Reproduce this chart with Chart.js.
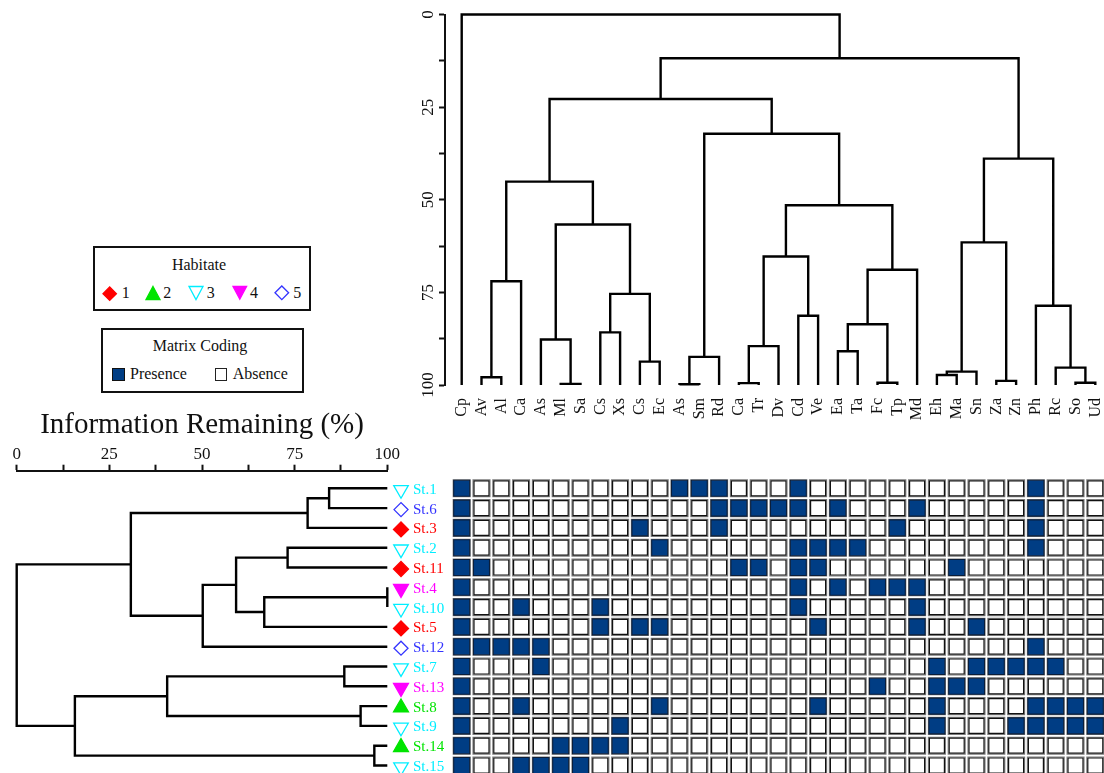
<!DOCTYPE html>
<html><head><meta charset="utf-8">
<script src="https://cdn.jsdelivr.net/npm/chart.js@4.4.1/dist/chart.umd.min.js"></script>
<style>
html,body{margin:0;padding:0;width:1104px;height:773px;overflow:hidden;background:#fff;}
canvas{position:absolute;display:block;}
.t{position:absolute;transform:translate(-50%,-50%);white-space:nowrap;line-height:1;font-family:'Liberation Serif','Times New Roman',serif;color:#111;font-size:16px;}
.tl{position:absolute;transform:translateY(-50%);white-space:nowrap;line-height:1;font-family:'Liberation Serif','Times New Roman',serif;color:#111;font-size:16px;}
.box{position:absolute;border:2.4px solid #111;box-sizing:border-box;}
.mk{position:absolute;}
</style></head>
<body>
<canvas id="cTop" width="689" height="430" style="left:415px;top:0px;width:689px;height:430px"></canvas>
<canvas id="cLeft" width="410" height="378" style="left:0px;top:395px;width:410px;height:378px"></canvas>
<canvas id="cMat" width="664" height="303" style="left:440px;top:470px;width:664px;height:303px"></canvas>
<canvas id="cLab" width="66" height="303" style="left:387px;top:470px;width:66px;height:303px"></canvas>

<div class="box" style="left:93.3px;top:246px;width:217.4px;height:65px"></div>
<div class="t" style="left:199px;top:265px">Habitate</div>
<div class="box" style="left:100.7px;top:328.3px;width:203.3px;height:65px"></div>
<div class="t" style="left:200px;top:346px">Matrix Coding</div>
<div id="legendItems"></div>

<script>
// ---------------- data ----------------
const species = ['Cp','Av','Al','Ca','As','Ml','Sa','Cs','Xs','Cs','Ec','As','Sm','Rd','Ca','Tr','Dv','Cd','Ve','Ea','Ta','Fc','Tp','Md','Eh','Ma','Sn','Za','Zn','Ph','Rc','So','Ud'];
// species dendrogram merges: [childA, childB, distance]; leaves 0..32, merge k gets id 33+k
const speciesMerges = [
  [1, 2, 97.9], [33, 3, 72.0], [5, 6, 99.7], [4, 35, 87.7], [7, 8, 85.8], [9, 10, 93.7],
  [37, 38, 75.4], [36, 39, 56.7], [34, 40, 45.1], [11, 12, 99.8], [42, 13, 92.4],
  [14, 15, 99.5], [44, 16, 89.5], [17, 18, 81.3], [45, 46, 65.3], [19, 20, 90.9],
  [21, 22, 99.4], [48, 49, 83.6], [50, 23, 68.9], [47, 51, 51.5], [43, 52, 32.2],
  [41, 53, 22.8], [24, 25, 97.3], [55, 26, 96.4], [27, 28, 98.9], [56, 57, 61.5],
  [31, 32, 99.4], [30, 59, 95.3], [29, 60, 78.6], [58, 61, 38.9], [54, 62, 11.8], [0, 63, 0]
];
const distanceTicks = [0, 12.5, 25, 37.5, 50, 62.5, 75, 87.5, 100];

const stations = ['St.1','St.6','St.3','St.2','St.11','St.4','St.10','St.5','St.12','St.7','St.13','St.8','St.9','St.14','St.15'];
const stationHabitat = [3, 5, 1, 3, 1, 4, 3, 1, 5, 3, 4, 2, 3, 2, 3];
// station dendrogram merges: leaves 0..14, merge k gets id 15+k
const stationMerges = [
  [0, 1, 84.3], [15, 2, 78.5], [3, 4, 73.1], [5, 6, 100], [18, 7, 66.8], [17, 19, 59.2],
  [20, 8, 50.2], [16, 21, 30.8], [9, 10, 88.4], [11, 12, 92.8], [23, 24, 40.6],
  [13, 14, 96.5], [25, 26, 15.7], [22, 27, 0]
];
const infoTicks = [0, 12.5, 25, 37.5, 50, 62.5, 75, 87.5, 100];

// presence matrix: species column indices present at each station (row order as stations)
const presence = [
  [0, 11, 12, 13, 17, 29],
  [0, 13, 14, 15, 16, 17, 19, 23, 29],
  [0, 9, 13, 22, 29],
  [0, 10, 17, 18, 19, 20, 29],
  [0, 1, 14, 15, 17, 18, 25],
  [0, 17, 19, 21, 22, 23],
  [0, 3, 7, 17, 23],
  [0, 7, 9, 10, 18, 23, 26],
  [0, 1, 2, 3, 4, 29],
  [0, 4, 24, 26, 27, 28, 29, 30],
  [0, 21, 24, 25, 26],
  [0, 3, 10, 18, 24, 29, 30, 31, 32],
  [0, 8, 24, 28, 29, 30, 31, 32],
  [0, 5, 6, 7, 8],
  [0, 3, 4, 5, 6]
];

// ---------------- styles / layout ----------------
const SERIF = "'Liberation Serif', 'Times New Roman', serif";
const INK = '#111';
const BLUE = '#003d84';
const habitatStyle = {
  1: {color: '#ff0000', shape: 'rectRot',  fill: true,  r: 7.5, rot: 0},
  2: {color: '#00e400', shape: 'triangle', fill: true,  r: 8.6, rot: 0},
  3: {color: '#00eeff', shape: 'triangle', fill: false, r: 8.4, rot: 180},
  4: {color: '#ff00ff', shape: 'triangle', fill: true,  r: 8.6, rot: 180},
  5: {color: '#3333ff', shape: 'rectRot',  fill: false, r: 7.0, rot: 0}
};
const PITCH = 19.8;      // matrix cell pitch (px)
const COL0_X = 461.7;    // page x of first column centre
const ROW0_Y = 488.3;    // page y of first row centre
const LABEL_SHIFT = 1.5;

function buildLinks(merges, nLeaves, leafH) {
  const pos = [], ht = [], out = [];
  for (let i = 0; i < nLeaves; i++) { pos[i] = i; ht[i] = leafH; }
  merges.forEach(([a, b, h], k) => {
    const id = nLeaves + k;
    pos[id] = (pos[a] + pos[b]) / 2; ht[id] = h;
    out.push({p: pos[a], h: ht[a]}, {p: pos[a], h: h}, {p: pos[b], h: h}, {p: pos[b], h: ht[b]}, null);
  });
  return out;
}
const lineDs = pts => ({
  data: pts, showLine: true, borderColor: '#000', borderWidth: 2.4, pointRadius: 0, pointHoverRadius: 0,
  spanGaps: false, clip: false, borderJoinStyle: 'miter', borderCapStyle: 'butt', tension: 0
});
const baseOpts = {responsive: false, animation: false, events: [], plugins: {legend: {display: false}, tooltip: {enabled: false}}};
const axisGrid = {display: true, drawOnChartArea: false, drawTicks: true, tickLength: 6, tickWidth: 2, tickColor: INK, color: INK};
const axisBorder = {display: true, color: INK, width: 2};
const noGrid = {display: false, drawTicks: false, tickLength: 0};

// ---------------- top dendrogram ----------------
const rotY = {
  id: 'rotY',
  afterDraw(chart) {
    const s = chart.scales.y, ctx = chart.ctx;
    ctx.save();
    ctx.fillStyle = INK; ctx.font = '17px ' + SERIF; ctx.textAlign = 'center'; ctx.textBaseline = 'middle';
    s.ticks.forEach(t => {
      if (t.value % 25 !== 0) return;
      ctx.save(); ctx.translate(s.left + 13.3, s.getPixelForValue(t.value)); ctx.rotate(-Math.PI / 2);
      ctx.fillText(String(t.value), 0, 0); ctx.restore();
    });
    ctx.restore();
  }
};
const topPts = buildLinks(speciesMerges, species.length, 100).map(p => p ? {x: p.p, y: p.h} : {x: NaN, y: NaN});
new Chart(document.getElementById('cTop'), {
  type: 'scatter',
  data: {datasets: [lineDs(topPts)]},
  options: Object.assign({}, baseOpts, {
    layout: {autoPadding: false, padding: {top: 14.5, left: 0, right: 0, bottom: 0}},
    scales: {
      x: {type: 'linear', position: 'bottom', min: (445 - COL0_X) / PITCH, max: (1104 - COL0_X) / PITCH,
          grid: noGrid, border: {display: false},
          afterBuildTicks: s => { s.ticks = species.map((_, i) => ({value: i})); },
          afterFit: s => { s.height = 45; s.paddingLeft = 0; s.paddingRight = 0; },
          ticks: {autoSkip: false, minRotation: 90, maxRotation: 90, padding: 13, color: INK,
                  font: {family: SERIF, size: 16}, callback: v => species[v]}},
      y: {type: 'linear', position: 'left', reverse: true, min: 0, max: 100,
          afterBuildTicks: s => { s.ticks = distanceTicks.map(v => ({value: v})); },
          afterFit: s => { s.width = 30; s.paddingTop = 0; s.paddingBottom = 0; },
          grid: axisGrid, border: axisBorder, ticks: {display: false}}
    }
  }),
  plugins: [rotY]
});

// ---------------- left dendrogram ----------------
const leftPts = buildLinks(stationMerges, stations.length, 100).map(p => p ? {x: p.h, y: p.p} : {x: NaN, y: NaN});
new Chart(document.getElementById('cLeft'), {
  type: 'scatter',
  data: {datasets: [lineDs(leftPts)]},
  options: Object.assign({}, baseOpts, {
    layout: {autoPadding: false, padding: {left: 16.7, right: 22.7, top: 0, bottom: 0}},
    scales: {
      x: {type: 'linear', position: 'top', min: 0, max: 100,
          afterBuildTicks: s => { s.ticks = infoTicks.map(v => ({value: v})); },
          afterFit: s => { s.height = 75.7; s.paddingLeft = 0; s.paddingRight = 0; },
          grid: axisGrid, border: axisBorder,
          ticks: {autoSkip: false, minRotation: 0, maxRotation: 0, padding: 0, color: INK,
                  font: {family: SERIF, size: 17}, callback: v => (v % 25 === 0 ? String(v) : '')},
          title: {display: true, text: 'Information Remaining (%)', color: INK,
                  font: {family: SERIF, size: 29}, padding: {top: 12.6, bottom: 0}}},
      y: {type: 'linear', display: false, reverse: true,
          min: (470.7 - ROW0_Y) / PITCH, max: (773 - ROW0_Y) / PITCH}
    }
  })
});

// ---------------- station markers + labels ----------------
const hs = stationHabitat.map(h => habitatStyle[h]);
new Chart(document.getElementById('cLab'), {
  type: 'scatter',
  data: {datasets: [{
    data: stations.map((_, i) => ({x: 0.5, y: i})),
    pointStyle: hs.map(s => s.shape), pointRadius: hs.map(s => s.r), pointHoverRadius: hs.map(s => s.r),
    pointRotation: hs.map(s => s.rot),
    pointBackgroundColor: hs.map(s => s.fill ? s.color : 'rgba(255,255,255,0)'),
    pointBorderColor: hs.map(s => s.color), pointBorderWidth: 1.3, clip: false
  }]},
  options: Object.assign({}, baseOpts, {
    layout: {autoPadding: false, padding: {left: 6, right: 0, top: 0, bottom: 0}},
    scales: {
      x: {type: 'linear', display: false, min: 0, max: 1},
      y: {type: 'linear', position: 'right', reverse: true,
          min: (470 - ROW0_Y - LABEL_SHIFT) / PITCH, max: (773 - ROW0_Y - LABEL_SHIFT) / PITCH,
          afterBuildTicks: s => { s.ticks = stations.map((_, i) => ({value: i})); },
          afterFit: s => { s.width = 44; s.paddingTop = 0; s.paddingBottom = 0; },
          grid: noGrid, border: {display: false},
          ticks: {autoSkip: false, padding: 4, font: {family: SERIF, size: 15},
                  color: c => habitatStyle[stationHabitat[c.index]].color, callback: v => stations[v]}}
    }
  })
});

// ---------------- matrix ----------------
const allCells = [], onCells = [], offCells = [];
presence.forEach((cols, r) => {
  species.forEach((_, c) => {
    const pt = {x: c, y: r};
    allCells.push(pt);
    (cols.includes(c) ? onCells : offCells).push(pt);
  });
});
const cellR = frac => ctx => {
  const s = ctx.chart.scales.x;
  return Math.abs(s.getPixelForValue(1) - s.getPixelForValue(0)) * frac / Math.SQRT2;
};
const cellDs = (data, fill, border, frac, order, bw) => ({
  data, order, pointStyle: 'rect', pointRadius: cellR(frac), pointHoverRadius: cellR(frac),
  pointBackgroundColor: fill, pointBorderColor: border, pointBorderWidth: bw, clip: false
});
new Chart(document.getElementById('cMat'), {
  type: 'scatter',
  data: {datasets: [
    cellDs(allCells, 'rgba(255,255,255,0)', '#7c7c7c', 0.859, 2, 1.1),
    cellDs(offCells, '#ffffff', '#111111', 0.758, 1, 1.2),
    cellDs(onCells, BLUE, '#0b1e3a', 0.808, 1, 1.1)
  ]},
  options: Object.assign({}, baseOpts, {
    layout: {autoPadding: false, padding: 0},
    scales: {
      x: {type: 'linear', display: false, min: (440 - COL0_X) / PITCH, max: (1104 - COL0_X) / PITCH},
      y: {type: 'linear', display: false, reverse: true, min: (470 - ROW0_Y) / PITCH, max: (773 - ROW0_Y) / PITCH}
    }
  })
});

// ---------------- HTML legends ----------------
function markerSvg(h, cx, cy, half) {
  const s = habitatStyle[h];
  const fill = s.fill ? s.color : 'none';
  const w = half * 2 + 4, o = half + 2;
  let pts;
  if (s.shape === 'rectRot') pts = `${o - half},${o} ${o},${o - half} ${o + half},${o} ${o},${o + half}`;
  else if (s.rot === 180) pts = `${o - half},${o - half * 0.93} ${o + half},${o - half * 0.93} ${o},${o + half * 0.93}`;
  else pts = `${o},${o - half * 0.93} ${o + half},${o + half * 0.93} ${o - half},${o + half * 0.93}`;
  return `<svg class="mk" width="${w}" height="${w}" style="left:${cx - o}px;top:${cy - o}px">` +
         `<polygon points="${pts}" fill="${fill}" stroke="${s.color}" stroke-width="1.3"/></svg>`;
}
const habitatLegend = [
  {h: 1, cx: 109.3, half: 6.7, tx: 121.7},
  {h: 2, cx: 153.0, half: 7.0, tx: 163.3},
  {h: 3, cx: 196.3, half: 7.0, tx: 206.7},
  {h: 4, cx: 239.4, half: 6.8, tx: 250.0},
  {h: 5, cx: 282.2, half: 6.8, tx: 293.3}
];
let html = '';
habitatLegend.forEach(it => {
  html += markerSvg(it.h, it.cx, 293.2, it.half);
  html += `<div class="tl" style="left:${it.tx}px;top:293px">${it.h}</div>`;
});
html += `<div style="position:absolute;left:111.7px;top:368px;width:13.3px;height:12.7px;background:${BLUE};border:1px solid #111;box-sizing:border-box"></div>`;
html += `<div class="tl" style="left:130px;top:374px">Presence</div>`;
html += `<div style="position:absolute;left:215px;top:368.3px;width:11.7px;height:12.4px;background:#fff;border:1.2px solid #222;box-sizing:border-box"></div>`;
html += `<div class="tl" style="left:232.7px;top:374px">Absence</div>`;
document.getElementById('legendItems').innerHTML = html;
</script>
</body></html>
